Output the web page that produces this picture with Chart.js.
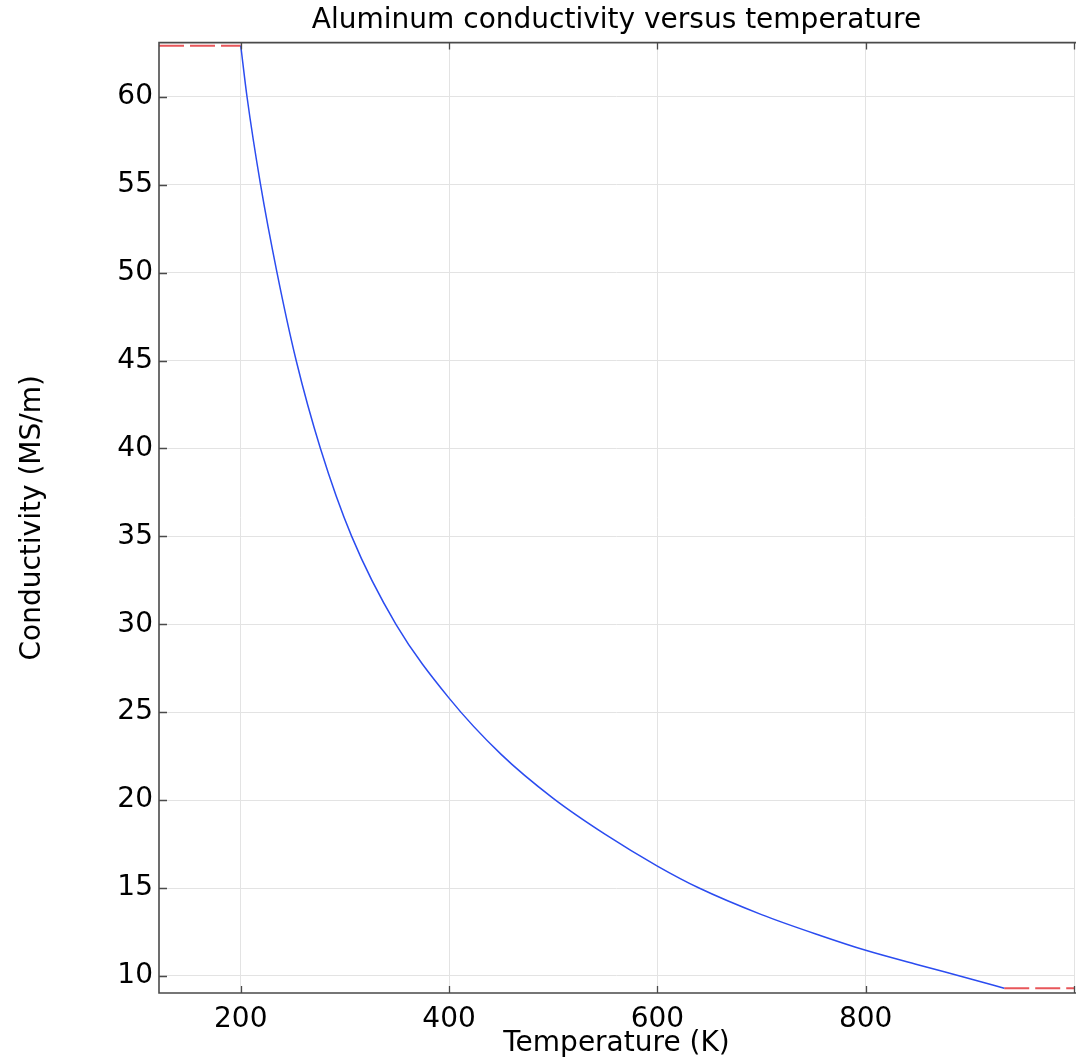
<!DOCTYPE html>
<html>
<head>
<meta charset="utf-8">
<script src="https://cdn.jsdelivr.net/npm/chart.js@4/dist/chart.umd.min.js"></script>
<style>
  html, body { margin: 0; padding: 0; background: #ffffff; }
  #wrap { width: 1076px; height: 1058px; position: relative; }
</style>
</head>
<body>
<div id="wrap"><canvas id="c" width="1076" height="1058"></canvas></div>
<script>
// ---- data ----
const tempK = [200, 206, 219, 234.8, 253.2, 276.5, 306.5, 349, 400, 450, 500, 550, 600, 640, 700, 757, 800, 850, 900, 933];
const conductivity = [62.9, 60, 55, 50, 45, 40, 35, 30, 25.8, 22.6, 20.1, 18.05, 16.25, 15, 13.49, 12.29, 11.46, 10.64, 9.84, 9.3];
const extLowT = [121.5, 200];
const extLowSigma = [62.9, 62.9];
const extHighT = [933, 1000];
const extHighSigma = [9.3, 9.3];
const xTickValues = [200, 400, 600, 800, 1000];
const xTickLabels = ['200', '400', '600', '800', ''];
const yTickValues = [10, 15, 20, 25, 30, 35, 40, 45, 50, 55, 60];
const yTickLabels = ['10', '15', '20', '25', '30', '35', '40', '45', '50', '55', '60'];
const titleText = 'Aluminum conductivity versus temperature';
const xTitle = 'Temperature (K)';
const yTitle = 'Conductivity (MS/m)';

const FONT = "'DejaVu Sans', sans-serif";
const FS = 28;

function pts(xs, ys) { return xs.map((x, i) => ({ x: x, y: ys[i] })); }

const framePlugin = {
  id: 'frame',
  afterDatasetsDraw(chart) {
    const { ctx, chartArea: a, scales } = chart;
    ctx.save();
    ctx.strokeStyle = '#4a4a4a';
    ctx.lineWidth = 1.6;
    ctx.beginPath();
    ctx.moveTo(a.right + 2, a.top);
    ctx.lineTo(a.left, a.top);
    ctx.lineTo(a.left, a.bottom);
    ctx.lineTo(a.right + 2, a.bottom);
    ctx.stroke();
    ctx.lineWidth = 1.3;
    ctx.beginPath();
    yTickValues.forEach(v => {
      const y = Math.round(scales.y.getPixelForValue(v)) + 0.5;
      ctx.moveTo(a.left, y); ctx.lineTo(a.left + 8, y);
    });
    xTickValues.forEach(v => {
      let x = Math.round(scales.x.getPixelForValue(v)) + 0.5;
      ctx.moveTo(x, a.bottom); ctx.lineTo(x, a.bottom - 7);
      ctx.moveTo(x, a.top); ctx.lineTo(x, a.top + 7);
    });
    ctx.stroke();
    ctx.restore();
  }
};

new Chart(document.getElementById('c'), {
  type: 'line',
  data: {
    datasets: [
      {
        data: pts(tempK, conductivity),
        borderColor: '#2b4cf0',
        borderWidth: 1.5,
        pointRadius: 0,
        cubicInterpolationMode: 'monotone',
        fill: false
      },
      {
        data: pts(extLowT, extLowSigma),
        borderColor: '#e8565a',
        borderWidth: 2,
        borderDash: [25, 6],
        pointRadius: 0,
        fill: false
      },
      {
        data: pts(extHighT, extHighSigma),
        borderColor: '#e8565a',
        borderWidth: 2,
        borderDash: [25, 6],
        pointRadius: 0,
        fill: false
      }
    ]
  },
  options: {
    responsive: false,
    animation: false,
    layout: { padding: { left: 0, right: 2, top: 0, bottom: 0 } },
    plugins: {
      legend: { display: false },
      tooltip: { enabled: false },
      title: {
        display: true,
        fullSize: false,
        text: titleText,
        color: '#000',
        font: { family: FONT, size: FS, weight: 'normal' },
        padding: { top: 4, bottom: 5 }
      }
    },
    scales: {
      x: {
        type: 'linear',
        min: 121.5,
        max: 1000,
        afterBuildTicks(scale) { scale.ticks = xTickValues.map(v => ({ value: v })); },
        afterFit(scale) { scale.height = 65; scale.paddingRight = 0; scale.paddingLeft = 0; },
        ticks: {
          color: '#000',
          font: { family: FONT, size: FS },
          padding: 10,
          maxRotation: 0,
          autoSkip: false,
          callback(v) { const i = xTickValues.indexOf(v); return i >= 0 ? xTickLabels[i] : ''; }
        },
        grid: { color: '#e3e3e3', lineWidth: 1, drawTicks: false },
        border: { display: false },
        title: {
          display: true,
          text: xTitle,
          color: '#000',
          font: { family: FONT, size: FS },
          padding: { top: 0, bottom: -3 }
        }
      },
      y: {
        type: 'linear',
        min: 9.03,
        max: 63.08,
        afterBuildTicks(scale) { scale.ticks = yTickValues.map(v => ({ value: v })); },
        afterFit(scale) { scale.width = 159; },
        ticks: {
          color: '#000',
          font: { family: FONT, size: FS },
          padding: 6,
          autoSkip: false,
          callback(v) { const i = yTickValues.indexOf(v); return i >= 0 ? yTickLabels[i] : ''; }
        },
        grid: { color: '#e3e3e3', lineWidth: 1, drawTicks: false },
        border: { display: false },
        title: {
          display: true,
          text: yTitle,
          color: '#000',
          font: { family: FONT, size: FS },
          padding: { top: 16, bottom: 40 }
        }
      }
    }
  },
  plugins: [framePlugin]
});
</script>
</body>
</html>
